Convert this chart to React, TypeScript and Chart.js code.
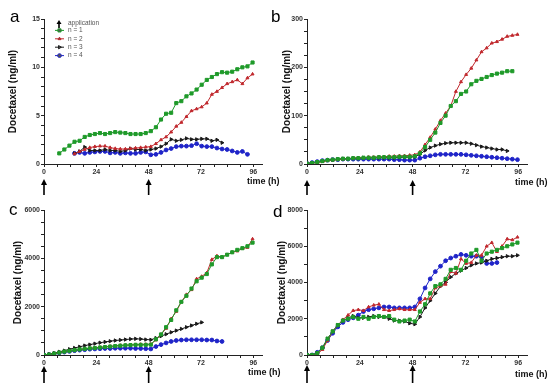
import React, { useEffect, useRef } from 'react';
import { Chart, registerables } from 'chart.js';
import { drawPoint } from 'chart.js/helpers';
Chart.register(...registerables);

const TIMES = [0, 2.33, 4.67, 7, 9.33, 11.67, 14, 16.33, 18.67, 21, 23.33, 25.67, 28, 30.33, 32.67, 35, 37.33, 39.67, 42, 44.33, 46.67, 49, 51.33, 53.67, 56, 58.33, 60.67, 63, 65.33, 67.67, 70, 72.33, 74.67, 77, 79.33, 81.67, 84, 86.33, 88.67, 91, 93.33, 95.67];

const SERIES_LABELS = ['n = 1', 'n = 2', 'n = 3', 'n = 4'];
const X_TICKS = [0, 6, 12, 18, 24, 30, 36, 42, 48, 54, 60, 66, 72, 78, 84, 90, 96];
const X_TICK_LABELS = [0, 24, 48, 72, 96];
const APPLICATION_TIMES = [0, 48];

// panel a (first value index in TIMES, then values)
const A_N1_START = 3;
const A_N1 = [1.1, 1.5, 1.9, 2.3, 2.4, 2.8, 3.0, 3.1, 3.2, 3.1, 3.2, 3.3, 3.25, 3.2, 3.1, 3.1, 3.1, 3.2, 3.4, 3.8, 4.6, 5.2, 5.3, 6.3, 6.5, 7.0, 7.3, 7.7, 8.2, 8.7, 9.0, 9.3, 9.5, 9.45, 9.55, 9.8, 10.0, 10.1, 10.5];
const A_N2_START = 6;
const A_N2 = [1.05, 1.3, 1.5, 1.7, 1.8, 1.85, 1.85, 1.7, 1.6, 1.55, 1.55, 1.6, 1.65, 1.7, 1.75, 1.8, 2.1, 2.5, 2.8, 3.3, 3.9, 4.3, 4.9, 5.5, 5.7, 5.9, 6.3, 7.2, 7.5, 7.9, 8.3, 8.5, 8.7, 8.3, 8.9, 9.3];
const A_N3_START = 6;
const A_N3 = [1.1, 1.3, 1.75, 1.4, 1.4, 1.4, 1.5, 1.4, 1.4, 1.3, 1.4, 1.6, 1.5, 1.5, 1.4, 1.5, 1.6, 1.8, 2.1, 2.55, 2.4, 2.5, 2.65, 2.55, 2.55, 2.6, 2.6, 2.4, 2.5, 2.2];
const A_N4_START = 6;
const A_N4 = [1.1, 1.2, 1.1, 1.2, 1.25, 1.3, 1.3, 1.15, 1.2, 1.1, 1.15, 1.1, 1.1, 1.2, 1.25, 0.95, 1.0, 1.2, 1.45, 1.6, 1.8, 1.85, 1.85, 1.9, 2.1, 1.85, 1.8, 1.8, 1.65, 1.55, 1.5, 1.35, 1.2, 1.3, 1.0];

// panel b
const B_N1 = [1, 2, 4, 6, 8, 9, 10, 11, 11, 12, 12, 13, 13, 13, 14, 14, 14, 14, 15, 15, 15, 16, 22, 35, 50, 65, 85, 100, 120, 130, 145, 150, 165, 172, 176, 180, 184, 187, 189, 192, 192];
const B_N2 = [1, 2, 3, 5, 7, 8, 9, 10, 11, 12, 13, 13, 14, 14, 15, 15, 16, 16, 17, 17, 18, 19, 25, 40, 55, 72, 90, 105, 120, 150, 170, 185, 198, 215, 232, 240, 250, 253, 258, 264, 266, 268];
const B_N3 = [1, 2, 4, 6, 8, 9, 10, 11, 11, 12, 12, 13, 13, 13, 13, 13, 13, 13, 14, 14, 14, 15, 20, 28, 34, 38, 41, 43, 44, 44, 44, 44, 42, 39, 36, 34, 32, 30, 30, 27];
const B_N4 = [1, 3, 5, 7, 8, 9, 9, 10, 10, 10, 10, 10, 10, 10, 10, 10, 10, 9, 9, 8, 8, 8, 12, 15, 17, 19, 20, 20, 20, 20, 20, 19, 18, 17, 16, 15, 14, 13, 12, 11, 10, 9];

// panel c
const C_N1 = [0, 20, 60, 100, 140, 170, 200, 230, 255, 275, 290, 310, 330, 350, 370, 385, 400, 410, 420, 420, 420, 430, 650, 850, 1150, 1450, 1850, 2200, 2450, 2750, 3050, 3200, 3350, 3750, 4050, 4050, 4150, 4250, 4350, 4420, 4500, 4650];
const C_N2 = [0, 20, 60, 100, 140, 170, 200, 230, 260, 280, 300, 320, 340, 360, 380, 400, 410, 420, 430, 440, 440, 450, 620, 850, 1100, 1500, 1800, 2200, 2500, 2700, 3150, 3250, 3400, 3950, 4100, 4050, 4150, 4250, 4300, 4400, 4450, 4800];
const C_N3 = [0, 30, 80, 130, 180, 240, 290, 340, 390, 430, 470, 510, 540, 570, 600, 620, 640, 660, 670, 660, 640, 630, 700, 780, 860, 940, 1010, 1080, 1150, 1220, 1290, 1350];
const C_N4 = [0, 20, 50, 90, 120, 150, 180, 200, 220, 240, 250, 260, 270, 270, 280, 280, 280, 280, 270, 270, 260, 250, 350, 430, 500, 560, 600, 620, 630, 630, 630, 630, 620, 620, 580, 560];

// panel d
const D_N1 = [0, 0, 100, 400, 900, 1300, 1650, 1900, 2000, 2100, 2000, 2100, 2000, 2100, 2150, 2100, 2150, 1950, 1850, 1900, 1950, 1850, 2400, 2800, 3400, 3800, 3900, 4200, 4700, 4800, 4700, 5200, 5600, 5800, 5200, 5600, 5700, 5800, 5900, 6000, 6100, 6200];
const D_N2 = [0, 0, 50, 300, 800, 1300, 1650, 1950, 2200, 2450, 2500, 2450, 2650, 2750, 2800, 2500, 2450, 2500, 2550, 2500, 2500, 2500, 2900, 3100, 3100, 3700, 3800, 3900, 4600, 4500, 5300, 5050, 5100, 5500, 5500, 6000, 6200, 5700, 6000, 6400, 6350, 6500];
const D_N3 = [0, 0, 100, 400, 900, 1300, 1650, 1900, 2050, 2150, 2050, 2050, 2100, 2150, 2100, 2100, 2000, 1900, 1900, 1850, 1750, 1700, 2100, 2600, 3000, 3400, 3800, 4000, 4300, 4500, 4650, 4800, 4950, 5050, 5100, 5200, 5300, 5350, 5400, 5450, 5450, 5500];
const D_N4 = [0, 0, 150, 400, 800, 1200, 1550, 1800, 1950, 2050, 2200, 2400, 2500, 2550, 2600, 2650, 2650, 2600, 2600, 2600, 2600, 2650, 3100, 3700, 4200, 4600, 4900, 5200, 5350, 5450, 5550, 5500, 5450, 5450, 5400, 5050, 5050, 5100];

const COLORS = ['#1f9a2a', '#c0282d', '#1a1a1a', '#1f24c8'];
const STYLES: any[] = ['rect', 'triangle', 'triangle', 'circle'];
const ROT = [0, 0, 90, 0];
const RADII = [2.2, 1.7, 1.9, 1.9];
const FONT = 'Arial, "Liberation Sans", sans-serif';

function toPoints(vals: number[], start = 0) {
  return vals.map((v, i) => ({ x: TIMES[start + i], y: v }));
}

type Panel = {
  letter: string; left: number; top: number; width: number; height: number;
  area: { left: number; top: number; right: number; bottom: number };
  yMax: number; yMinor: number; yMajor: number;
  series: { x: number; y: number }[][];
  legend: boolean;
  titleX: number; letterX: number; letterY: number; timeX: number; timeY: number;
  arrowTop: number; arrowBottom: number;
};

const PANELS: Panel[] = [
  {
    letter: 'a', left: 0, top: 0, width: 290, height: 195,
    area: { left: 44, top: 19, right: 262, bottom: 164 },
    yMax: 15, yMinor: 1, yMajor: 5,
    series: [toPoints(A_N1, A_N1_START), toPoints(A_N2, A_N2_START), toPoints(A_N3, A_N3_START), toPoints(A_N4, A_N4_START)],
    legend: true, titleX: 13, letterX: 10, letterY: 22, timeX: 247, timeY: 182, arrowTop: 179, arrowBottom: 196,
  },
  {
    letter: 'b', left: 265, top: 0, width: 285, height: 195,
    area: { left: 42, top: 19, right: 262, bottom: 164 },
    yMax: 300, yMinor: 25, yMajor: 100,
    series: [toPoints(B_N1), toPoints(B_N2), toPoints(B_N3), toPoints(B_N4)],
    legend: false, titleX: 22, letterX: 6, letterY: 22, timeX: 250, timeY: 183, arrowTop: 180, arrowBottom: 196,
  },
  {
    letter: 'c', left: 0, top: 195, width: 290, height: 195,
    area: { left: 44, top: 15, right: 262, bottom: 160 },
    yMax: 6000, yMinor: 500, yMajor: 2000,
    series: [toPoints(C_N1), toPoints(C_N2), toPoints(C_N3), toPoints(C_N4)],
    legend: false, titleX: 18, letterX: 9, letterY: 20, timeX: 248, timeY: 178, arrowTop: 171, arrowBottom: 188,
  },
  {
    letter: 'd', left: 265, top: 195, width: 285, height: 195,
    area: { left: 42, top: 15, right: 262, bottom: 160 },
    yMax: 8000, yMinor: 1000, yMajor: 2000,
    series: [toPoints(D_N1), toPoints(D_N2), toPoints(D_N3), toPoints(D_N4)],
    legend: false, titleX: 17, letterX: 8, letterY: 22, timeX: 250, timeY: 180, arrowTop: 170, arrowBottom: 188,
  },
];

function drawArrow(ctx: CanvasRenderingContext2D, x: number, top: number, bottom: number, head = 6, hw = 3) {
  ctx.save();
  ctx.strokeStyle = '#000';
  ctx.fillStyle = '#000';
  ctx.lineWidth = 1.6;
  ctx.beginPath();
  ctx.moveTo(x, top + head - 1);
  ctx.lineTo(x, bottom);
  ctx.stroke();
  ctx.beginPath();
  ctx.moveTo(x, top);
  ctx.lineTo(x - hw, top + head);
  ctx.lineTo(x + hw, top + head);
  ctx.closePath();
  ctx.fill();
  ctx.restore();
}

function makeDecor(p: Panel) {
  return {
    id: 'decor',
    afterDraw(chart: any) {
      const ctx: CanvasRenderingContext2D = chart.ctx;
      const ca = chart.chartArea;
      ctx.save();
      ctx.translate(p.titleX, (ca.top + ca.bottom) / 2);
      ctx.rotate(-Math.PI / 2);
      ctx.font = `bold 10px ${FONT}`;
      ctx.fillStyle = '#111';
      ctx.textAlign = 'center';
      ctx.textBaseline = 'middle';
      ctx.fillText('Docetaxel (ng/ml)', 0, 0);
      ctx.restore();

      ctx.save();
      ctx.font = `17px ${FONT}`;
      ctx.fillStyle = '#000';
      ctx.textAlign = 'left';
      ctx.textBaseline = 'alphabetic';
      ctx.fillText(p.letter, p.letterX, p.letterY);
      ctx.font = `bold 9px ${FONT}`;
      ctx.textBaseline = 'middle';
      ctx.fillStyle = '#111';
      ctx.fillText('time (h)', p.timeX, p.timeY);
      ctx.restore();

      const xs = chart.scales.x;
      APPLICATION_TIMES.forEach((t) => drawArrow(ctx, xs.getPixelForValue(t), p.arrowTop, p.arrowBottom));

      if (p.legend) {
        const lx = ca.left + 11;
        const ly = ca.top + 3;
        const rowH = 8.4;
        drawArrow(ctx, lx + 4, ly - 2, ly + 6, 4, 2.5);
        ctx.save();
        ctx.font = `6.5px ${FONT}`;
        ctx.fillStyle = '#555';
        ctx.textBaseline = 'middle';
        ctx.fillText('application', lx + 13, ly + 1);
        chart.data.datasets.forEach((ds: any, i: number) => {
          const y = ly + rowH * (i + 1);
          ctx.strokeStyle = ds.borderColor;
          ctx.lineWidth = 1;
          ctx.beginPath();
          ctx.moveTo(lx, y);
          ctx.lineTo(lx + 9, y);
          ctx.stroke();
          drawPoint(ctx, { pointStyle: ds.pointStyle, rotation: ds.pointRotation, radius: ds.pointRadius, borderWidth: 1 } as any, lx + 4.5, y);
          ctx.fillStyle = '#555';
          ctx.fillText(ds.label, lx + 13, y);
        });
        ctx.restore();
      }
    },
  };
}

function PanelChart({ p }: { p: Panel }) {
  const ref = useRef<HTMLCanvasElement>(null);
  useEffect(() => {
    if (!ref.current) return;
    const tickFont = { family: FONT, size: 7, weight: 'bold' as const };
    const chart = new Chart(ref.current, {
      type: 'line',
      data: {
        datasets: p.series.map((pts, i) => ({
          label: SERIES_LABELS[i],
          data: pts,
          borderColor: COLORS[i],
          backgroundColor: COLORS[i],
          borderWidth: 1,
          pointStyle: STYLES[i],
          pointRotation: ROT[i],
          pointRadius: RADII[i],
          pointBorderWidth: 1,
          pointBackgroundColor: COLORS[i],
          pointBorderColor: COLORS[i],
          tension: 0,
        })),
      },
      options: {
        responsive: false,
        animation: false,
        devicePixelRatio: 1,
        events: [],
        layout: { padding: { left: 0, top: p.area.top, right: p.width - p.area.right, bottom: 0 } },
        plugins: { legend: { display: false }, tooltip: { enabled: false } },
        scales: {
          x: {
            type: 'linear', min: 0, max: 100,
            afterFit: (s: any) => { s.height = p.height - p.area.bottom; },
            afterBuildTicks: (s: any) => { s.ticks = X_TICKS.map((v) => ({ value: v })); },
            ticks: {
              stepSize: 6, includeBounds: false, autoSkip: false, maxRotation: 0, padding: 1, font: tickFont, color: '#333',
              callback: (v: any) => (X_TICK_LABELS.includes(Number(v)) ? String(v) : ''),
            },
            grid: { drawOnChartArea: false, drawTicks: true, tickLength: 3, color: '#222', lineWidth: 1 },
            border: { display: true, color: '#222', width: 1 },
          },
          y: {
            type: 'linear', min: 0, max: p.yMax,
            afterFit: (s: any) => { s.width = p.area.left; },
            afterBuildTicks: (s: any) => { s.ticks = s.ticks.filter((t: any) => t.value % p.yMinor === 0); },
            ticks: {
              stepSize: p.yMinor, includeBounds: false, autoSkip: false, padding: 1, font: tickFont, color: '#333',
              callback: (v: any) => (Number(v) % p.yMajor === 0 ? String(v) : ''),
            },
            grid: { drawOnChartArea: false, drawTicks: true, tickLength: 3, color: '#222', lineWidth: 1 },
            border: { display: true, color: '#222', width: 1 },
          },
        },
      } as any,
      plugins: [makeDecor(p)],
    });
    return () => chart.destroy();
  }, [p]);
  return (
    <canvas
      ref={ref}
      width={p.width}
      height={p.height}
      style={{ position: 'absolute', left: p.left, top: p.top, width: p.width, height: p.height, display: 'block' }}
    />
  );
}

export default function App() {
  return (
    <div style={{ position: 'absolute', left: 0, top: 0, width: 550, height: 390, background: '#fff', overflow: 'hidden' }}>
      {PANELS.map((p) => (
        <PanelChart key={p.letter} p={p} />
      ))}
    </div>
  );
}
